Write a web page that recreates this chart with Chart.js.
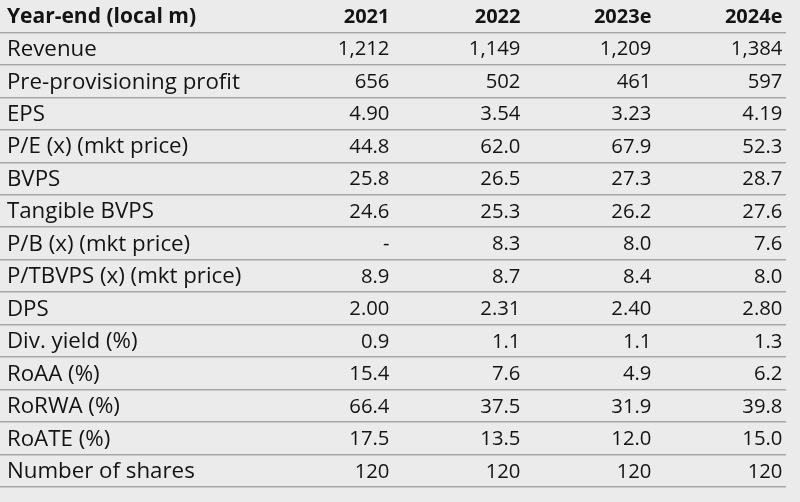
<!DOCTYPE html>
<html>
<head>
<meta charset="utf-8">
<script src="https://cdn.jsdelivr.net/npm/chart.js@4.4.0/dist/chart.umd.min.js"></script>
<style>
  html, body { margin: 0; padding: 0; background: #ebebeb; }
</style>
</head>
<body>
<canvas id="estimates-table" width="800" height="502"></canvas>
<script>
// Cabeçalho e colunas
const headerLabel = 'Year-end (local m)';
const years = ['2021', '2022', '2023e', '2024e'];

// Rótulos das linhas
const rowLabels = [
  'Revenue',
  'Pre-provisioning profit',
  'EPS',
  'P/E (x) (mkt price)',
  'BVPS',
  'Tangible BVPS',
  'P/B (x) (mkt price)',
  'P/TBVPS (x) (mkt price)',
  'DPS',
  'Div. yield (%)',
  'RoAA (%)',
  'RoRWA (%)',
  'RoATE (%)',
  'Number of shares',
];

// Valores de cada linha (2021, 2022, 2023e, 2024e)
const revenue = [1212, 1149, 1209, 1384];
const preProvisioningProfit = [656, 502, 461, 597];
const eps = [4.9, 3.54, 3.23, 4.19];
const pe = [44.8, 62.0, 67.9, 52.3];
const bvps = [25.8, 26.5, 27.3, 28.7];
const tangibleBvps = [24.6, 25.3, 26.2, 27.6];
const pb = [null, 8.3, 8.0, 7.6];
const ptbvps = [8.9, 8.7, 8.4, 8.0];
const dps = [2.0, 2.31, 2.4, 2.8];
const divYield = [0.9, 1.1, 1.1, 1.3];
const roaa = [15.4, 7.6, 4.9, 6.2];
const rorwa = [66.4, 37.5, 31.9, 39.8];
const roate = [17.5, 13.5, 12.0, 15.0];
const numberOfShares = [120, 120, 120, 120];

// Casas decimais de cada linha
const rowDecimals = [0, 0, 2, 1, 1, 1, 1, 1, 2, 1, 1, 1, 1, 0];

const rows = [
  revenue, preProvisioningProfit, eps, pe, bvps, tangibleBvps, pb,
  ptbvps, dps, divYield, roaa, rorwa, roate, numberOfShares,
];

const categories = [headerLabel, ...rowLabels];
const labelColumn = -1.92;
const fontFamily = '"Open Sans", Lato, sans-serif';
const textColor = '#141414';

function formatCell(value, decimals) {
  if (value === null) {
    return '-';
  }
  return value.toLocaleString('en-US', {
    minimumFractionDigits: decimals,
    maximumFractionDigits: decimals,
  });
}

// Plugin que escreve o texto das células
const cellTextPlugin = {
  id: 'cellText',
  afterDatasetsDraw(chart) {
    const { ctx } = chart;
    const xScale = chart.scales.x;
    const yScale = chart.scales.y;
    const dy = 1;
    ctx.save();
    ctx.fillStyle = textColor;
    ctx.textBaseline = 'middle';

    // cabeçalho
    ctx.font = 'bold 21px ' + fontFamily;
    ctx.textAlign = 'left';
    ctx.fillText(headerLabel, xScale.getPixelForValue(labelColumn), yScale.getPixelForValue(0) + dy);
    ctx.font = 'bold 20px ' + fontFamily;
    ctx.textAlign = 'right';
    years.forEach((year, c) => {
      ctx.fillText(year, xScale.getPixelForValue(c + 1), yScale.getPixelForValue(0) + dy);
    });

    // rótulos das linhas
    ctx.font = '22.3px ' + fontFamily;
    ctx.textAlign = 'left';
    rowLabels.forEach((label, i) => {
      ctx.fillText(label, xScale.getPixelForValue(labelColumn), yScale.getPixelForValue(i + 1) + dy);
    });

    // valores
    ctx.font = '20.3px ' + fontFamily;
    ctx.textAlign = 'right';
    chart.data.datasets.forEach((dataset, c) => {
      const meta = chart.getDatasetMeta(c);
      meta.data.forEach((point, i) => {
        ctx.fillText(formatCell(rows[i][c], rowDecimals[i]), point.x, point.y + dy);
      });
    });
    ctx.restore();
  },
};

new Chart(document.getElementById('estimates-table'), {
  type: 'scatter',
  data: {
    datasets: years.map((year, c) => ({
      label: year,
      data: rows.map((row, i) => ({ x: c + 1, y: rowLabels[i] })),
      pointRadius: 0,
      pointHoverRadius: 0,
    })),
  },
  options: {
    responsive: false,
    animation: false,
    events: [],
    layout: { padding: { left: 0, right: 14, top: 0, bottom: 15 } },
    plugins: { legend: { display: false }, tooltip: { enabled: false } },
    scales: {
      x: {
        type: 'linear',
        display: false,
        min: -1.973,
        max: 4.027,
      },
      y: {
        type: 'category',
        labels: categories,
        offset: true,
        border: { display: false },
        ticks: { display: false },
        grid: {
          offset: true,
          drawTicks: false,
          lineWidth: 1.6,
          color: (context) => (context.index === 0 ? 'rgba(0,0,0,0)' : '#a7a7a7'),
        },
      },
    },
  },
  plugins: [cellTextPlugin],
});
</script>
</body>
</html>
